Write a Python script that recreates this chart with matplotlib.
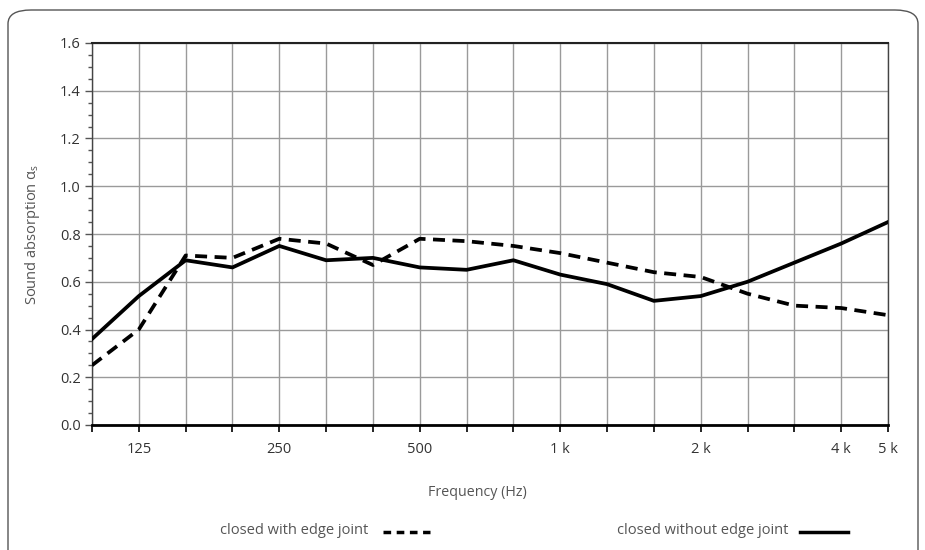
import matplotlib
matplotlib.use("Agg")
import matplotlib.pyplot as plt
from matplotlib.patches import FancyBboxPatch
from matplotlib.lines import Line2D
from matplotlib.ticker import MultipleLocator

plt.rcParams['font.family'] = ['Open Sans', 'DejaVu Sans']

bands = ["100", "125", "160", "200", "250", "315", "400", "500", "630", "800",
         "1k", "1.25k", "1.6k", "2k", "2.5k", "3.15k", "4k", "5k"]
tick_labels = ["", "125", "", "", "250", "", "", "500", "", "",
               "1 k", "", "", "2 k", "", "", "4 k", "5 k"]
with_joint = [0.25, 0.40, 0.71, 0.70, 0.78, 0.76, 0.67, 0.78, 0.77, 0.75,
              0.72, 0.68, 0.64, 0.62, 0.55, 0.50, 0.49, 0.46]
without_joint = [0.36, 0.54, 0.69, 0.66, 0.75, 0.69, 0.70, 0.66, 0.65, 0.69,
                 0.63, 0.59, 0.52, 0.54, 0.60, 0.68, 0.76, 0.85]
series_names = ["closed with edge joint", "closed without edge joint"]

W, H = 925, 550
fig = plt.figure(figsize=(W / 100, H / 100), dpi=100)

# rounded frame
frame = FancyBboxPatch((8 / W, -30 / H), (910 / W), (H - 10 + 30) / H,
                       boxstyle="round,pad=0,rounding_size=0.025",
                       transform=fig.transFigure, fill=False,
                       edgecolor="#555555", linewidth=1.0, zorder=0)
fig.patches.append(frame)

ax = fig.add_axes([92 / W, 1 - 425 / H, (888 - 92) / W, (425 - 43) / H])
x = list(range(len(bands)))

text_col = "#333333"
label_col = "#555555"
ax.plot(x, with_joint, color="black", lw=2.7, linestyle=(0, (3.2, 2.0)),
        solid_joinstyle="miter", dash_capstyle="butt", zorder=3)
ax.plot(x, without_joint, color="black", lw=2.7, solid_joinstyle="miter", zorder=3)

ax.set_xlim(0, len(bands) - 1)
ax.set_ylim(0, 1.6)
ax.set_xticks(x)
ax.set_xticklabels(tick_labels, fontsize=10.5, color=text_col)
ax.yaxis.set_major_locator(MultipleLocator(0.2))
ax.yaxis.set_minor_locator(MultipleLocator(0.05))
ax.set_yticklabels([f"{v:.1f}" for v in ax.get_yticks()], fontsize=10.5, color=text_col)
ax.tick_params(axis="x", direction="out", length=5, width=1.2, color="black", pad=7)
ax.tick_params(axis="y", which="major", direction="out", length=5, width=1, color="#555555", pad=3)
ax.tick_params(axis="y", which="minor", direction="out", length=3, width=1, color="#555555")

ax.grid(True, which="major", axis="both", color="#9a9a9a", lw=1.0)
ax.set_axisbelow(True)
for s in ["left", "right"]:
    ax.spines[s].set_color("#444444")
    ax.spines[s].set_linewidth(1.0)
ax.spines["bottom"].set_color("black")
ax.spines["bottom"].set_linewidth(2.0)
ax.spines["top"].set_color("#222222")
ax.spines["top"].set_linewidth(1.5)

fig.text(32 / W, 1 - 234 / H, "Sound absorption α$_\\mathregular{s}$", rotation=90,
         ha="center", va="center", fontsize=10.5, color=label_col)
fig.text(477 / W, 1 - 492 / H, "Frequency (Hz)", ha="center", va="center",
         fontsize=10.3, color=label_col)

# legend
fig.text(368 / W, 1 - 531 / H, series_names[0], ha="right", va="center",
         fontsize=10.5, color=label_col)
fig.add_artist(Line2D([383 / W, 430 / W], [1 - 532 / H, 1 - 532 / H], color="black",
                      lw=2.5, linestyle=(0, (2.2, 1.6)), transform=fig.transFigure))
fig.text(788 / W, 1 - 531 / H, series_names[1], ha="right", va="center",
         fontsize=10.5, color=label_col)
fig.add_artist(Line2D([800 / W, 848 / W], [1 - 532 / H, 1 - 532 / H], color="black",
                      lw=2.5, transform=fig.transFigure))

fig.savefig("out.png", dpi=100)
